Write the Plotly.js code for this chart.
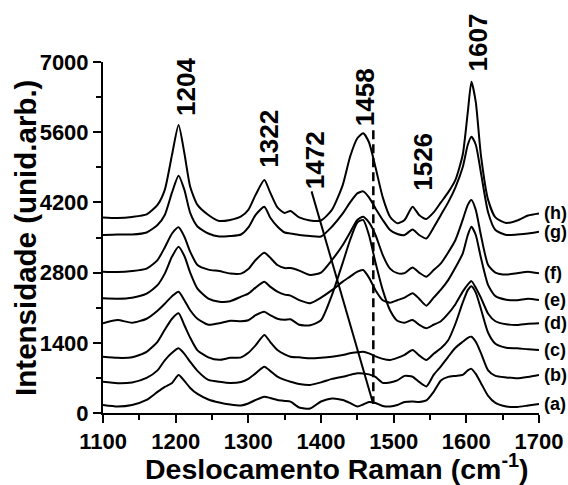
<!DOCTYPE html>
<html>
<head>
<meta charset="utf-8">
<script src="https://cdn.plot.ly/plotly-3.0.1.min.js"></script>
<style>html,body{margin:0;padding:0;background:#fff;}#chart{width:568px;height:485px;}</style>
</head>
<body>
<div id="chart"></div>
<script>
// Raman shift (cm-1) sampling points
const wavenumber = [1100,1120,1140,1160,1175,1185,1195,1204,1212,1220,
  1230,1245,1260,1275,1290,1300,1310,1322,1330,1340,
  1350,1358,1370,1385,1400,1415,1430,1440,1450,1458,
  1466,1475,1485,1495,1505,1515,1526,1535,1545,1555,
  1565,1575,1585,1595,1602,1607,1613,1620,1630,1640,
  1655,1670,1685,1700];

// Spectra (offset intensities, a.u.)
const spec_h = [3900,3890,3910,3960,4150,4450,5150,5743,5180,4513,
  4150,3950,3830,3850,3920,4050,4350,4646,4400,4100,
  3990,4030,3900,3840,3840,4050,4550,5111,5480,5577,
  5400,4900,4300,3915,3782,3850,4114,3950,3870,4000,
  4200,4400,4650,5150,6000,6606,6200,5150,4250,3900,
  3790,3840,3940,3980];
const spec_g = [3550,3560,3560,3600,3750,3950,4400,4732,4450,3990,
  3720,3580,3520,3530,3560,3700,3950,4114,3900,3720,
  3600,3580,3550,3530,3520,3715,3980,4200,4380,4420,
  4300,4080,3850,3650,3570,3550,3660,3550,3480,3700,
  3950,4200,4500,4900,5350,5510,5350,4800,4000,3650,
  3550,3560,3580,3615];
const spec_f = [2818,2810,2830,2880,3050,3300,3580,3703,3516,3217,
  2951,2860,2830,2780,2780,2870,3050,3197,3100,2951,
  2890,2890,2840,2752,2800,3050,3350,3600,3850,3915,
  3800,3550,3150,2880,2790,2790,2900,2800,2718,2850,
  2985,3200,3450,3850,4150,4247,4050,3550,2950,2800,
  2760,2786,2818,2786];
const spec_e = [2287,2280,2300,2380,2550,2780,3120,3316,3130,2800,
  2480,2280,2220,2230,2320,2380,2500,2618,2520,2420,
  2360,2340,2250,2190,2300,2450,2620,2720,2820,2851,
  2700,2450,2250,2200,2250,2300,2390,2280,2140,2300,
  2460,2650,2900,3180,3550,3715,3550,3100,2550,2330,
  2260,2250,2280,2253];
const spec_d = [1789,1854,1800,1880,2040,2180,2330,2419,2250,2050,
  1880,1760,1790,1840,1830,1850,1950,2020,1950,1880,
  1860,1870,1760,1750,1850,2350,3000,3450,3800,3850,
  3550,3000,2450,2050,1840,1800,1854,1760,1689,1760,
  1830,1980,2170,2420,2560,2630,2500,2300,1980,1830,
  1770,1755,1780,1789];
const spec_c = [1123,1100,1110,1220,1420,1660,1880,1988,1750,1500,
  1250,1110,1060,1100,1110,1200,1350,1555,1420,1256,
  1170,1123,1110,1090,1100,1120,1157,1190,1210,1223,
  1190,1130,1080,1057,1100,1160,1256,1150,1057,1180,
  1290,1450,1780,2200,2450,2530,2400,2080,1600,1380,
  1300,1290,1270,1256];
const spec_b = [624,595,610,700,850,1050,1200,1290,1180,1020,
  840,660,624,600,620,680,790,923,840,724,
  660,624,580,560,610,680,724,760,791,790,
  770,720,600,610,650,740,724,620,530,760,
  930,1120,1300,1420,1500,1522,1420,1200,850,740,
  710,692,720,758];
const spec_a = [160,130,160,260,420,520,600,758,640,500,
  380,270,210,170,150,190,260,326,300,259,
  240,226,110,90,230,290,260,200,130,170,
  220,200,140,130,160,220,230,220,250,420,
  650,720,740,760,850,880,780,600,340,200,
  130,120,150,179];

const seriesNames = ['(a)','(b)','(c)','(d)','(e)','(f)','(g)','(h)'];
const seriesData = [spec_a,spec_b,spec_c,spec_d,spec_e,spec_f,spec_g,spec_h];

// Peak labels (position in data units)
const peakLabels = ['1204','1322','1472','1458','1526','1607'];
const peakLabelX = [1214,1328,1392,1460,1540,1616];
const peakLabelY = [6500,5464,5045,6291,5005,7388];

// Guide lines
const slantLineX = [1387,1471];
const slantLineY = [4420,225];
const dashLineX = [1472,1472];
const dashLineY = [5640,180];

const X_RANGE = [1100, 1700];
const Y_RANGE = [0, 7000];
const FONT = 'Arial, "Liberation Sans", sans-serif';

const traces = seriesData.map((ys, i) => ({
  x: wavenumber, y: ys, type: 'scatter', mode: 'lines', name: seriesNames[i],
  line: {color: '#000', width: 2, shape: 'spline', smoothing: 0.6},
  hoverinfo: 'skip', cliponaxis: false
}));
traces.push({x: slantLineX, y: slantLineY, type: 'scatter', mode: 'lines',
  line: {color: '#000', width: 2}, hoverinfo: 'skip'});
traces.push({x: dashLineX, y: dashLineY, type: 'scatter', mode: 'lines',
  line: {color: '#000', width: 2.5, dash: '9px,5px'}, hoverinfo: 'skip'});

const annotations = [];
peakLabels.forEach((t, i) => annotations.push({
  x: peakLabelX[i], xref: 'x', xanchor: 'center',
  y: (peakLabelY[i] - Y_RANGE[0]) / (Y_RANGE[1] - Y_RANGE[0]), yref: 'paper', yanchor: 'middle',
  text: t, textangle: -90, showarrow: false,
  font: {family: FONT, size: 26, color: '#000', weight: 700}
}));
seriesNames.forEach((t, i) => {
  const ys = seriesData[i];
  annotations.push({
    x: wavenumber[wavenumber.length - 1], y: ys[ys.length - 1], xref: 'x', yref: 'y',
    text: t, showarrow: false, xanchor: 'left', xshift: 3,
    font: {family: FONT, size: 18, color: '#000', weight: 700}
  });
});
// Axis titles
annotations.push({
  text: 'Deslocamento Raman (cm<sup>-1</sup>)', xref: 'paper', yref: 'paper',
  x: 0.536, y: -0.155, xanchor: 'center', yanchor: 'middle', showarrow: false,
  font: {family: FONT, size: 28.5, color: '#000', weight: 700}
});
annotations.push({
  text: 'Intensidade (unid.arb.)', xref: 'paper', yref: 'paper',
  x: -0.178, y: 0.5, xanchor: 'center', yanchor: 'middle', textangle: -90, showarrow: false,
  font: {family: FONT, size: 29.5, color: '#000', weight: 700}
});

const layout = {
  width: 568, height: 485,
  margin: {l: 103, r: 29, t: 62, b: 72},
  paper_bgcolor: '#fff', plot_bgcolor: '#fff',
  showlegend: false,
  font: {family: FONT, color: '#000', weight: 700},
  xaxis: {
    range: X_RANGE, tickmode: 'array', tickvals: [1100,1200,1300,1400,1500,1600,1700],
    ticks: 'outside', ticklen: 8, tickwidth: 2, tickcolor: '#000',
    minor: {dtick: 50, tick0: 1100, ticks: 'outside', ticklen: 5, tickwidth: 2, tickcolor: '#000', showgrid: false},
    showline: true, linewidth: 2, linecolor: '#000', showgrid: false, zeroline: false,
    tickfont: {family: FONT, size: 22, color: '#000', weight: 700},
    automargin: false
  },
  yaxis: {
    range: Y_RANGE, tickmode: 'array', tickvals: [0,1400,2800,4200,5600,7000],
    ticks: 'outside', ticklen: 8, tickwidth: 2, tickcolor: '#000',
    minor: {dtick: 700, tick0: 0, ticks: 'outside', ticklen: 5, tickwidth: 2, tickcolor: '#000', showgrid: false},
    showline: true, linewidth: 2, linecolor: '#000', showgrid: false, zeroline: false,
    tickfont: {family: FONT, size: 22, color: '#000', weight: 700},
    automargin: false
  },
  annotations: annotations
};

Plotly.newPlot('chart', traces, layout, {displayModeBar: false, staticPlot: true});
</script>
</body>
</html>
